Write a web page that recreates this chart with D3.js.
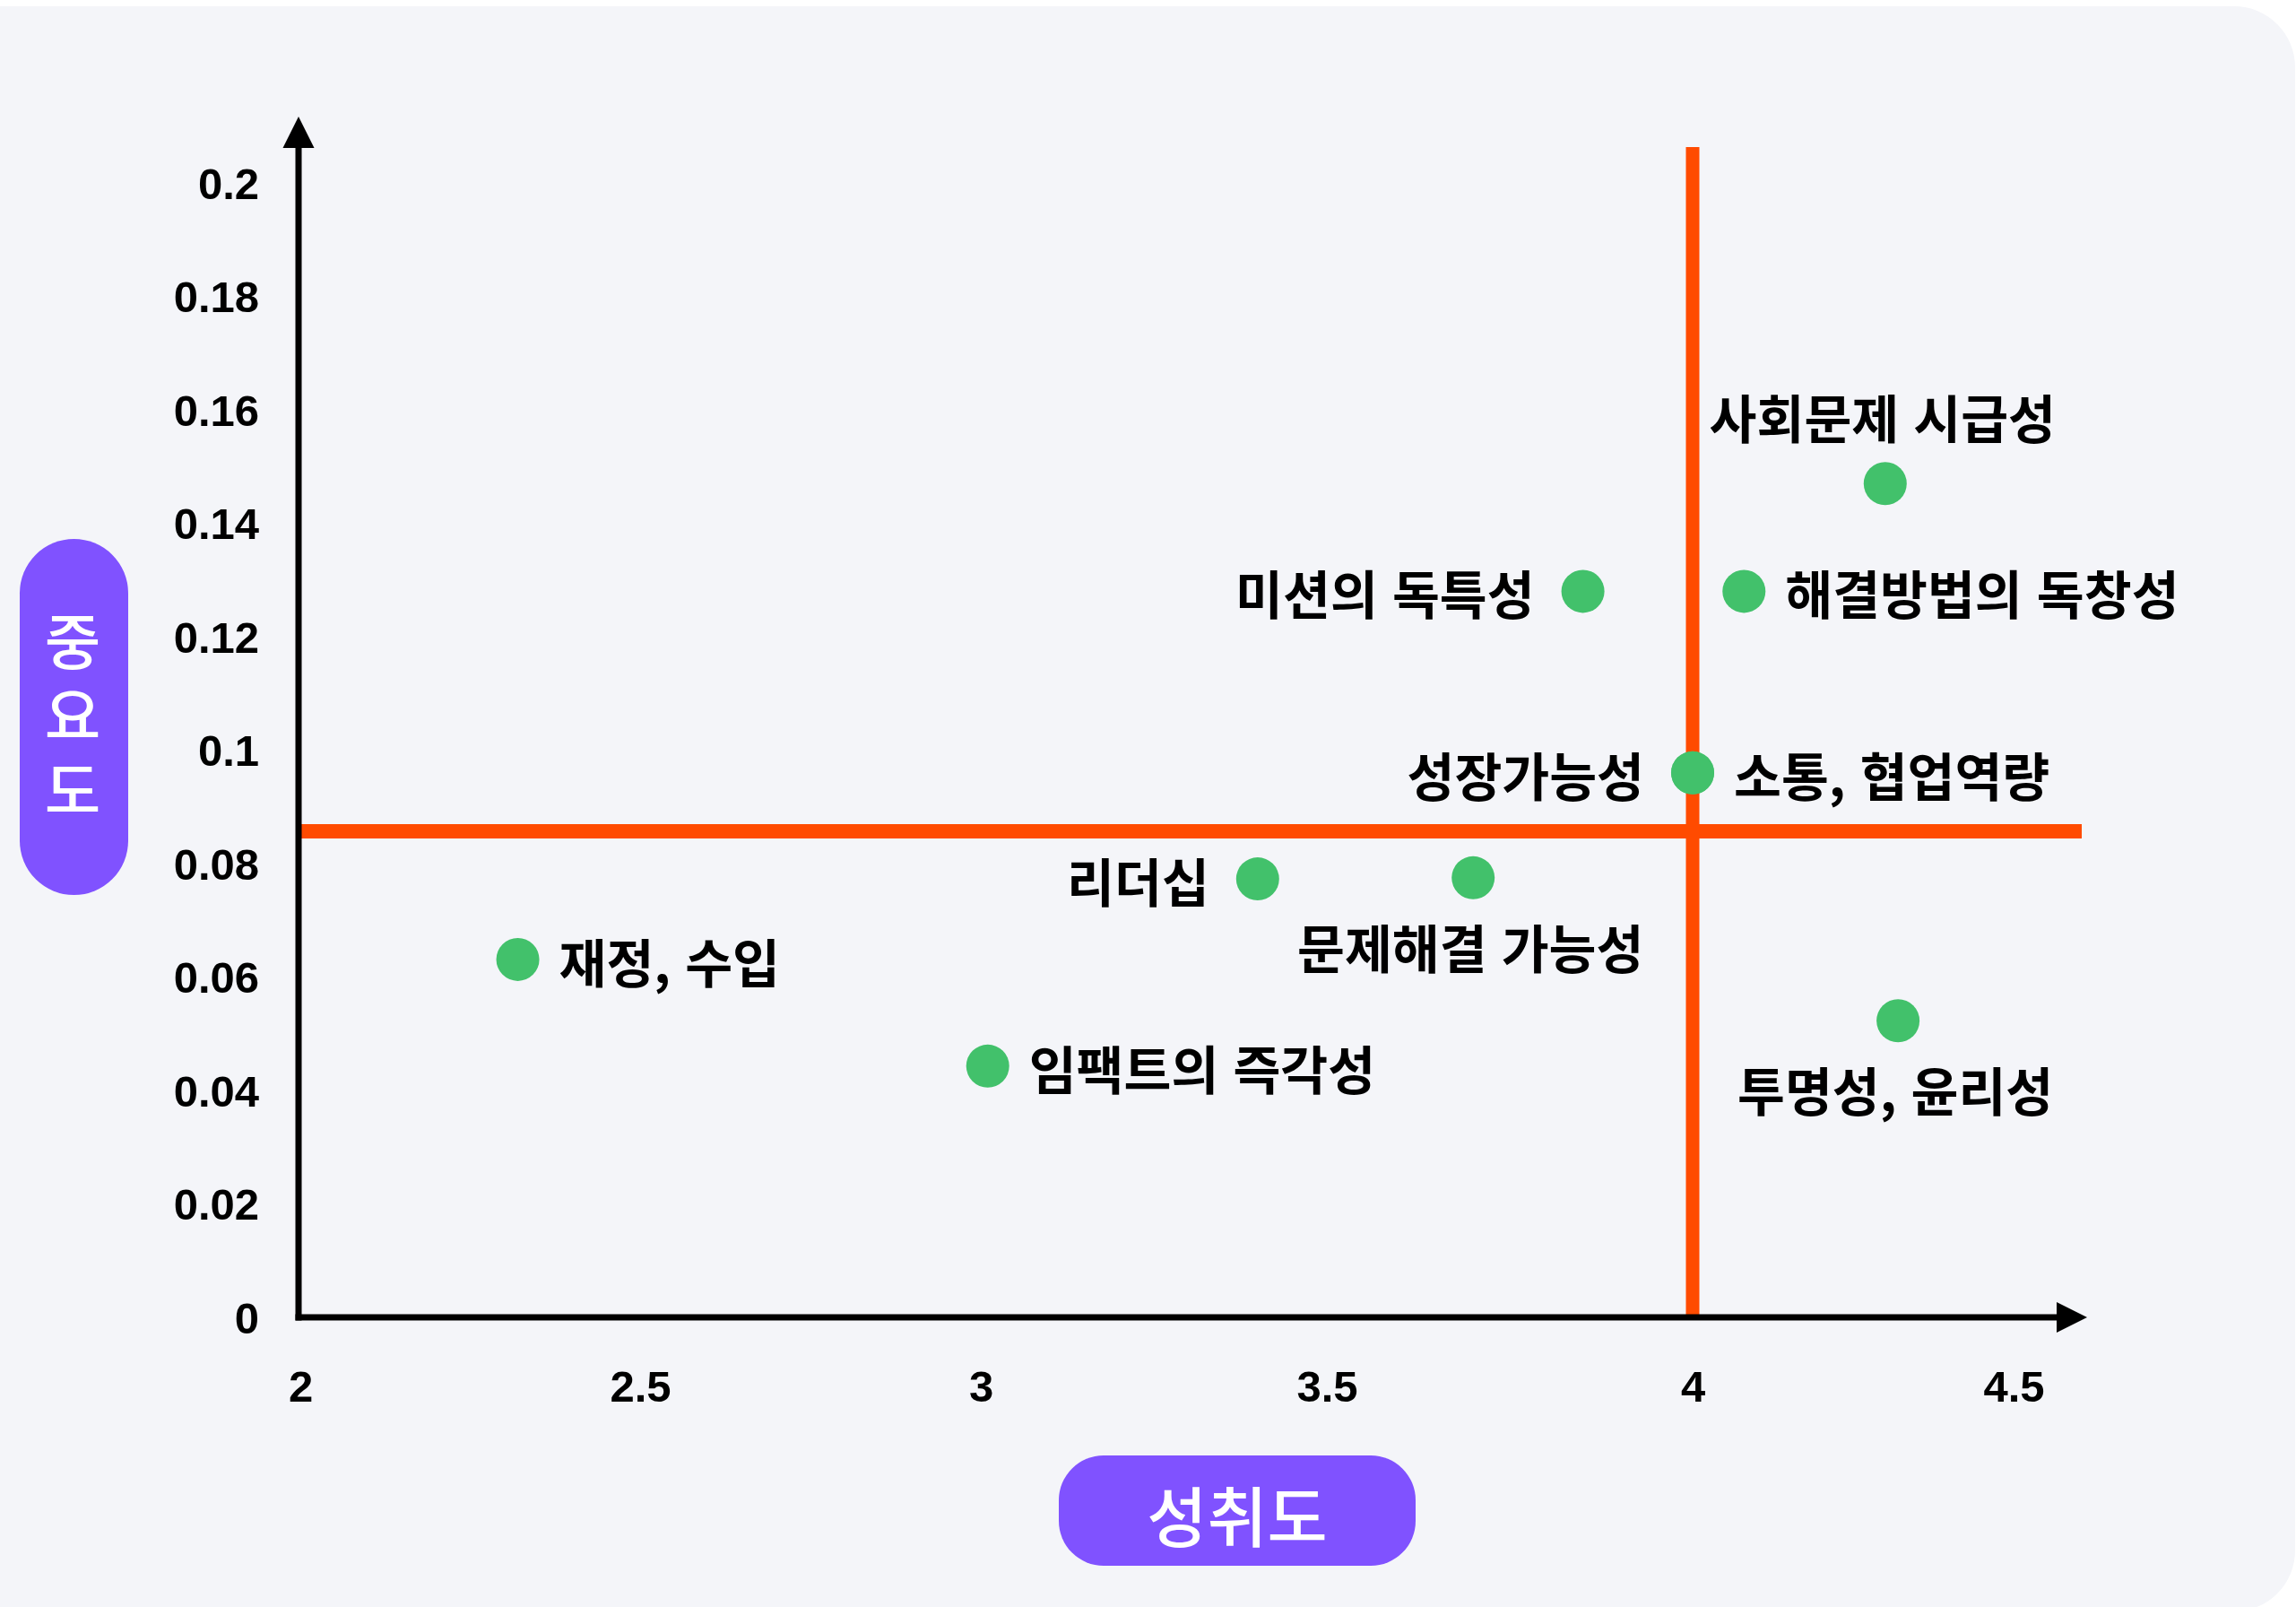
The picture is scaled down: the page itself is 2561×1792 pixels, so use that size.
<!DOCTYPE html>
<html lang="ko">
<head>
<meta charset="utf-8">
<script src="https://cdn.jsdelivr.net/npm/d3@7"></script>
<style>
  html, body { margin: 0; padding: 0; background: #ffffff; }
  svg { display: block; }
</style>
</head>
<body>
<svg id="chart" width="2561" height="1792"></svg>
<script>
// ---- data ----
const categories = ["사회문제 시급성", "미션의 독특성", "해결방법의 독창성", "성장가능성", "소통, 협업역량",
                    "리더십", "문제해결 가능성", "재정, 수입", "임팩트의 즉각성", "투명성, 윤리성"];
const achievement = [4.30, 3.85, 4.08, 4.00, 4.00, 3.40, 3.70, 2.32, 3.01, 4.32];   // 성취도 (x)
const importance  = [0.147, 0.128, 0.128, 0.096, 0.096, 0.0773, 0.0775, 0.0631, 0.0443, 0.0523]; // 중요도 (y)
const labelSide   = ["top", "left", "right", "left", "right", "left", "bottom", "right", "right", "bottom"];
const xTicks = [2, 2.5, 3, 3.5, 4, 4.5];
const xTickLabels = ["2", "2.5", "3", "3.5", "4", "4.5"];
const yTicks = [0, 0.02, 0.04, 0.06, 0.08, 0.1, 0.12, 0.14, 0.16, 0.18, 0.2];
const yTickLabels = ["0", "0.02", "0.04", "0.06", "0.08", "0.1", "0.12", "0.14", "0.16", "0.18", "0.2"];
const meanAchievement = 4.0;
const meanImportance = 0.0857;
const xTitle = "성취도";
const yTitle = "중요도";

// ---- layout ----
const svg = d3.select("#chart");
const ORANGE = "#ff4b00", GREEN = "#42c16b", PURPLE = "#8052ff", PANEL = "#f4f5f9";
const tickFont = "'Liberation Sans', Arial, Helvetica, sans-serif";
const krFont = "'Noto Sans CJK KR', 'Noto Sans KR', sans-serif";

const x = d3.scaleLinear().domain(xTicks).range([335, 714, 1094, 1480, 1888, 2246]);
const y = d3.scaleLinear().domain([0, 0.2]).range([1469, 204]);

// background panel
svg.append("rect").attr("x", -100).attr("y", 7).attr("width", 2660).attr("height", 1790)
  .attr("rx", 68).attr("fill", PANEL);

// quadrant lines
svg.append("line")
  .attr("x1", x(meanAchievement)).attr("x2", x(meanAchievement))
  .attr("y1", 164).attr("y2", y(0))
  .attr("stroke", ORANGE).attr("stroke-width", 15);
svg.append("line")
  .attr("x1", 336).attr("x2", 2322)
  .attr("y1", y(meanImportance)).attr("y2", y(meanImportance))
  .attr("stroke", ORANGE).attr("stroke-width", 16);

// axes (ticks via d3 axes, custom arrowed lines)
const gx = svg.append("g").attr("transform", `translate(0,${y(0)})`)
  .call(d3.axisBottom(x).tickValues(xTicks).tickSize(0).tickFormat((d, i) => xTickLabels[i]));
gx.select(".domain").remove();
gx.selectAll("text").attr("y", 77).attr("dy", null).attr("dominant-baseline", "central")
  .attr("font-family", tickFont).attr("font-weight", 700).attr("font-size", 49).attr("fill", "#000");

const gy = svg.append("g").attr("transform", `translate(${x(2) - 2},0)`)
  .call(d3.axisLeft(y).tickValues(yTicks).tickSize(0).tickFormat((d, i) => yTickLabels[i]));
gy.select(".domain").remove();
gy.selectAll("text").attr("x", -44).attr("dy", null).attr("dominant-baseline", "central")
  .attr("font-family", tickFont).attr("font-weight", 700).attr("font-size", 49).attr("fill", "#000");

const ax0 = x(2) - 2, ay0 = y(0);
// y axis line + arrow
svg.append("line").attr("x1", ax0).attr("x2", ax0).attr("y1", ay0 + 3.5).attr("y2", 160)
  .attr("stroke", "#000").attr("stroke-width", 7);
svg.append("path").attr("d", `M${ax0},130 L${ax0 - 17.5},165 L${ax0 + 17.5},165 Z`).attr("fill", "#000");
// x axis line + arrow
svg.append("line").attr("x1", ax0 - 3.5).attr("x2", 2300).attr("y1", ay0).attr("y2", ay0)
  .attr("stroke", "#000").attr("stroke-width", 7);
svg.append("path").attr("d", `M2328,${ay0} L2294,${ay0 - 17} L2294,${ay0 + 17} Z`).attr("fill", "#000");

// points
const pts = categories.map((c, i) => ({ name: c, x: achievement[i], y: importance[i], side: labelSide[i] }));
svg.append("g").selectAll("circle").data(pts).join("circle")
  .attr("cx", d => x(d.x)).attr("cy", d => y(d.y)).attr("r", 24).attr("fill", GREEN);

// labels
svg.append("g").selectAll("text").data(pts).join("text")
  .attr("x", d => d.side === "left" ? x(d.x) - 54 : d.side === "right" ? x(d.x) + 46 : x(d.x) - 3)
  .attr("y", d => d.side === "top" ? y(d.y) - 75 : d.side === "bottom" ? y(d.y) + 76 : y(d.y) + 1)
  .attr("text-anchor", d => d.side === "left" ? "end" : d.side === "right" ? "start" : "middle")
  .attr("dominant-baseline", "central")
  .attr("font-family", krFont).attr("font-weight", 700).attr("font-size", 57.5).attr("fill", "#000")
  .text(d => d.name);

// x title pill
svg.append("rect").attr("x", 1181).attr("y", 1623).attr("width", 398).attr("height", 123)
  .attr("rx", 50).attr("fill", PURPLE);
svg.append("text").attr("x", 1380).attr("y", 1687).attr("text-anchor", "middle")
  .attr("dominant-baseline", "central").attr("font-family", krFont).attr("font-weight", 500)
  .attr("font-size", 73).attr("fill", "#fff").text(xTitle);

// y title pill (vertical, upright characters)
svg.append("rect").attr("x", 22).attr("y", 601).attr("width", 121).attr("height", 397)
  .attr("rx", 60.5).attr("fill", PURPLE);
svg.append("text").attr("x", 81).attr("y", 806)
  .attr("text-anchor", "middle")
  .style("writing-mode", "vertical-rl").style("text-orientation", "upright")
  .style("letter-spacing", "15px")
  .attr("font-family", krFont).attr("font-weight", 500).attr("font-size", 68).attr("fill", "#fff")
  .text(yTitle);
</script>
</body>
</html>
